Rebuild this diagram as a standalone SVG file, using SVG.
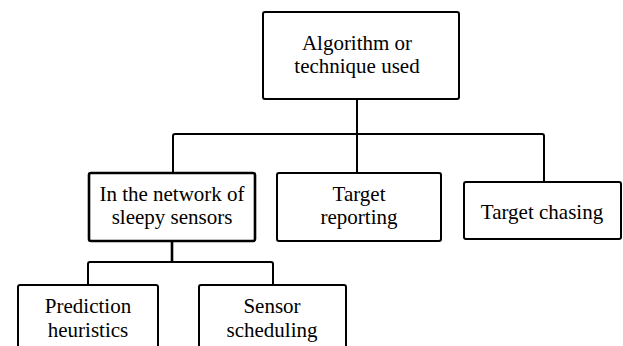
<svg xmlns="http://www.w3.org/2000/svg" width="623" height="346" viewBox="0 0 623 346">
  <rect width="623" height="346" fill="#ffffff"/>

  <!-- connectors -->
  <g id="connectors" fill="none" stroke="#000000" stroke-width="2" stroke-linejoin="round">
    <path d="M357 99 V134"/>
    <path d="M173 173 V136 Q173 134 175 134 H542 Q544 134 544 136 V182"/>
    <path d="M357 134 V173"/>
    <path d="M172 241 V262" stroke-width="2.6"/>
    <path d="M88 285 V264 Q88 262 90 262 H271 Q273 262 273 264 V285"/>
  </g>

  <g id="root">
    <rect x="263" y="12" width="196" height="87" rx="2" fill="#ffffff" stroke="#000000" stroke-width="2"/>
    <text x="357" y="50" font-family="Liberation Serif" font-size="21" text-anchor="middle">Algorithm or</text>
    <text x="357" y="73" font-family="Liberation Serif" font-size="21" text-anchor="middle">technique used</text>
  </g>

  <g id="sleepy">
    <rect x="89" y="173" width="166" height="68" rx="2" fill="#ffffff" stroke="#000000" stroke-width="2.6"/>
    <text x="172" y="201" font-family="Liberation Serif" font-size="21" text-anchor="middle">In the network of</text>
    <text x="172" y="224" font-family="Liberation Serif" font-size="21" text-anchor="middle">sleepy sensors</text>
  </g>

  <g id="reporting">
    <rect x="277" y="173" width="164" height="68" rx="2" fill="#ffffff" stroke="#000000" stroke-width="2"/>
    <text x="359" y="201" font-family="Liberation Serif" font-size="21" text-anchor="middle">Target</text>
    <text x="359" y="224" font-family="Liberation Serif" font-size="21" text-anchor="middle">reporting</text>
  </g>

  <g id="chasing">
    <rect x="464" y="182" width="157" height="57" rx="2" fill="#ffffff" stroke="#000000" stroke-width="2"/>
    <text x="542" y="219" font-family="Liberation Serif" font-size="21" text-anchor="middle">Target chasing</text>
  </g>

  <g id="prediction">
    <rect x="18" y="285" width="140" height="70" rx="2" fill="#ffffff" stroke="#000000" stroke-width="2"/>
    <text x="88" y="313" font-family="Liberation Serif" font-size="21" text-anchor="middle">Prediction</text>
    <text x="88" y="337" font-family="Liberation Serif" font-size="21" text-anchor="middle">heuristics</text>
  </g>

  <g id="scheduling">
    <rect x="199" y="285" width="147" height="70" rx="2" fill="#ffffff" stroke="#000000" stroke-width="2"/>
    <text x="272" y="313" font-family="Liberation Serif" font-size="21" text-anchor="middle">Sensor</text>
    <text x="272" y="337" font-family="Liberation Serif" font-size="21" text-anchor="middle">scheduling</text>
  </g>
</svg>
